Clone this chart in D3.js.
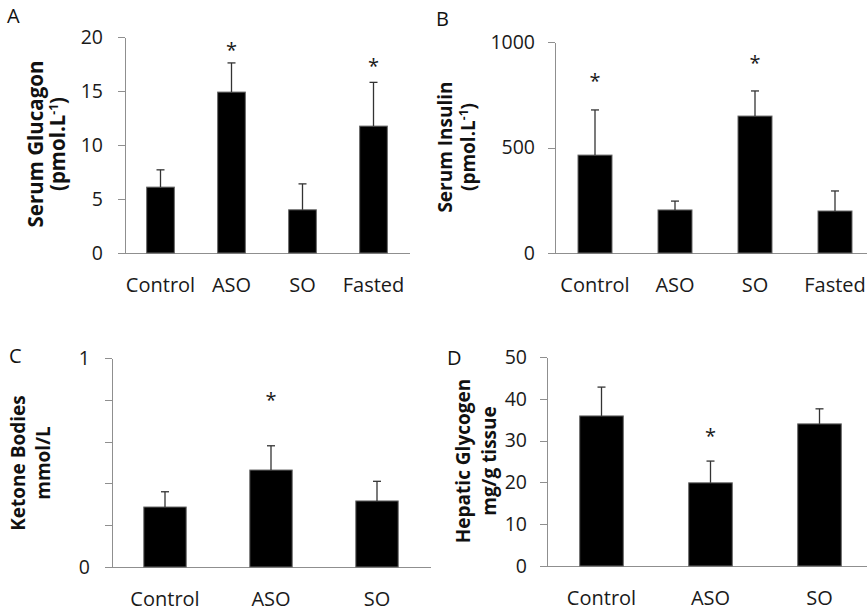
<!DOCTYPE html>
<html>
<head>
<meta charset="utf-8">
<script src="https://cdn.jsdelivr.net/npm/d3@7"></script>
<style>
  body { margin: 0; background: #fff; }
  svg { display: block; font-family: "Open Sans", sans-serif; }
  .axis path, .axis line { stroke: #8f8f8f; stroke-width: 1; shape-rendering: crispEdges; }
  .axis text { fill: #1a1a1a; font-size: 19.5px; font-family: "Open Sans", sans-serif; }
  .xaxis text { font-size: 20px; }
</style>
</head>
<body>
<script>
// categories
var catsFour = ["Control", "ASO", "SO", "Fasted"];
var catsThree = ["Control", "ASO", "SO"];

// A - serum glucagon (pmol/L)
var glucagonMean = [6.1, 14.9, 4.0, 11.75];
var glucagonErr = [1.6, 2.7, 2.4, 4.05];
var glucagonStar = [null, 19.2, null, 17.7];
var glucagonTicks = [0, 5, 10, 15, 20];

// B - serum insulin (pmol/L)
var insulinMean = [464, 204, 649, 199];
var insulinErr = [214, 42, 119, 95];
var insulinStar = [839, null, 924, null];
var insulinTicks = [0, 500, 1000];

// C - ketone bodies (mmol/L)
var ketoneMean = [0.287, 0.464, 0.316];
var ketoneErr = [0.073, 0.116, 0.094];
var ketoneStar = [null, 0.82, null];
var ketoneTicks = [0, 0.2, 0.4, 0.6, 0.8, 1];

// D - hepatic glycogen (mg/g tissue)
var glycogenMean = [35.9, 19.9, 34.0];
var glycogenErr = [6.9, 5.2, 3.6];
var glycogenStar = [null, 32.3, null];
var glycogenTicks = [0, 10, 20, 30, 40, 50];

var svg = d3.select("body").append("svg")
    .attr("width", 867)
    .attr("height", 613);

function drawPanel(p) {
  var g = svg.append("g");

  var x = d3.scaleBand().domain(p.cats).range([p.x0, p.x1]).padding(0);
  var y = d3.scaleLinear().domain(p.domain).range([p.y0, p.y1]);
  var bw = x.bandwidth() * p.barFrac;

  // y axis
  g.append("g")
    .attr("class", "axis")
    .attr("transform", "translate(" + p.x0 + ",0)")
    .call(d3.axisLeft(y).tickValues(p.ticks).tickSize(7).tickSizeOuter(0)
      .tickPadding(p.labelGap - 7).tickFormat(p.fmt));

  // x axis
  var xa = g.append("g")
    .attr("class", "axis xaxis")
    .attr("transform", "translate(0," + p.y0 + ")")
    .call(d3.axisBottom(x).tickSize(0).tickSizeOuter(0));
  xa.selectAll("text").attr("y", 39).attr("dy", 0);

  // bars
  g.selectAll(".bar")
    .data(p.mean)
    .enter().append("rect")
      .attr("x", function(d, i) { return x(p.cats[i]) + (x.bandwidth() - bw) / 2; })
      .attr("y", function(d) { return y(d); })
      .attr("width", bw)
      .attr("height", function(d) { return p.y0 - y(d); })
      .style("fill", "#000")
      .style("stroke", "#666")
      .style("stroke-width", 1);

  // error bars (upper only)
  p.mean.forEach(function(m, i) {
    var cx = x(p.cats[i]) + x.bandwidth() / 2;
    g.append("line")
      .attr("x1", cx).attr("x2", cx)
      .attr("y1", y(m)).attr("y2", y(m + p.err[i]))
      .style("stroke", "#333").style("stroke-width", 1.3);
    g.append("line")
      .attr("x1", cx - 4).attr("x2", cx + 4)
      .attr("y1", y(m + p.err[i])).attr("y2", y(m + p.err[i]))
      .style("stroke", "#333").style("stroke-width", 1.3);
    if (p.star[i] != null) {
      g.append("text")
        .attr("x", cx).attr("y", y(p.star[i]))
        .attr("dy", "0.58em")
        .attr("text-anchor", "middle")
        .style("font-size", "20px")
        .style("fill", "#1a1a1a")
        .text("*");
    }
  });

  // axis title, rotated, two lines
  p.title.forEach(function(line, i) {
    var t = g.append("text")
      .attr("transform", "translate(" + p.titleX[i] + "," + p.titleY + ") rotate(-90)")
      .attr("text-anchor", "middle")
      .style("font-size", p.titleSize + "px")
      .style("font-weight", "bold")
      .style("fill", "#111");
    if (line.indexOf("^") < 0) {
      t.text(line);
    } else {
      var parts = line.split("^");
      t.append("tspan").text(parts[0]);
      t.append("tspan").attr("dy", -7).style("font-size", "12px").text("-1");
      t.append("tspan").attr("dy", 7).text(parts[1]);
    }
  });

  // panel letter
  g.append("text")
    .attr("x", p.letterX).attr("y", p.letterY)
    .style("font-size", "20px")
    .style("fill", "#111")
    .text(p.letter);
}

var plainFmt = d3.format("d");

drawPanel({
  letter: "A", letterX: 7, letterY: 23,
  cats: catsFour, mean: glucagonMean, err: glucagonErr, star: glucagonStar,
  domain: [0, 20], ticks: glucagonTicks, fmt: plainFmt,
  x0: 125, x1: 409, y0: 253, y1: 37, barFrac: 0.39, labelGap: 22,
  title: ["Serum Glucagon", "(pmol.L^)"], titleX: [43, 65], titleY: 144, titleSize: 20.5
});

drawPanel({
  letter: "B", letterX: 436, letterY: 26,
  cats: catsFour, mean: insulinMean, err: insulinErr, star: insulinStar,
  domain: [0, 1000], ticks: insulinTicks, fmt: plainFmt,
  x0: 555, x1: 875, y0: 253, y1: 42, barFrac: 0.425, labelGap: 20,
  title: ["Serum Insulin", "(pmol.L^)"], titleX: [452, 475], titleY: 147, titleSize: 19
});

drawPanel({
  letter: "C", letterX: 9, letterY: 363,
  cats: catsThree, mean: ketoneMean, err: ketoneErr, star: ketoneStar,
  domain: [0, 1], ticks: ketoneTicks,
  fmt: function(d) { return (d === 0 || d === 1) ? d : ""; },
  x0: 112, x1: 430, y0: 567, y1: 358, barFrac: 0.4, labelGap: 22,
  title: ["Ketone Bodies", "mmol/L"], titleX: [25, 50], titleY: 463, titleSize: 19
});

drawPanel({
  letter: "D", letterX: 447, letterY: 365,
  cats: catsThree, mean: glycogenMean, err: glycogenErr, star: glycogenStar,
  domain: [0, 50], ticks: glycogenTicks, fmt: plainFmt,
  x0: 547, x1: 874, y0: 566, y1: 357, barFrac: 0.4, labelGap: 20,
  title: ["Hepatic Glycogen", "mg/g tissue"], titleX: [470, 496], titleY: 461, titleSize: 19
});
</script>
</body>
</html>
